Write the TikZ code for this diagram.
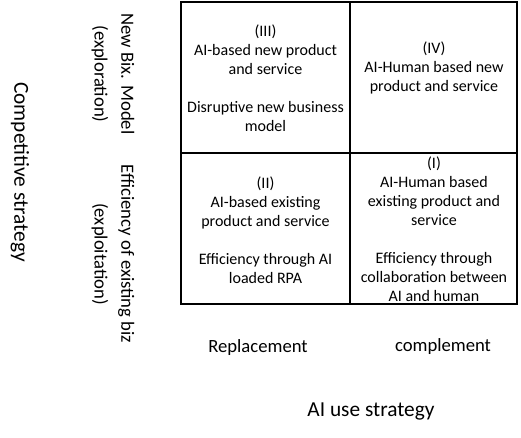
\documentclass[tikz,border=0pt]{standalone}
\usepackage{fontspec}
\setmainfont{Carlito}
\usetikzlibrary{positioning}

\begin{document}
\begin{tikzpicture}
	[x=0.75pt, y=-0.75pt,
	 quadtext/.style={align=center, inner sep=0pt, font=\fontsize{12}{14.2}\selectfont},
	 axislabel/.style={align=center, inner sep=0pt, font=\fontsize{14}{20}\selectfont},
	 axistitle/.style={inner sep=0pt, font=\fontsize{16}{19}\selectfont}]
	\useasboundingbox (0,0) rectangle (521,438);

	% the 2x2 matrix
	\draw[line width=2pt] (181,2) rectangle (517,304);
	\draw[line width=2pt] (350,2) -- (350,304);
	\draw[line width=2pt] (181,153) -- (517,153);

	% quadrants
	\node[quadtext] (q3) at (265.5,78) {(III)\\AI-based new product\\and service\\[14.2pt]Disruptive new business\\model};
	\node[quadtext] (q4) at (434,68) {(IV)\\AI-Human based new\\product and service};
	\node[quadtext] (q2) at (265.5,230) {(II)\\AI-based existing\\product and service\\[14.2pt]Efficiency through AI\\loaded RPA};
	\node[quadtext] (q1) at (434,229) {(I)\\AI-Human based\\existing product and\\service\\[14.2pt]Efficiency through\\collaboration between\\AI and human};

	% vertical axis
	\node[axislabel, rotate=-90] (newbiz) at (113,74) {New Bix. Model\\(exploration)};
	\node[axislabel, rotate=-90] (effbiz) at (113,254) {Efficiency of existing biz\\(exploitation)};
	\node[axistitle, rotate=-90] (compstrat) at (20,172) {Competitive strategy};

	% horizontal axis
	\node[axislabel] (replace) at (258,348) {Replacement};
	\node[axislabel] (complement) at (443,347) {complement};
	\node[axistitle] (aiuse) at (371,411) {AI use strategy};
\end{tikzpicture}
\end{document}
